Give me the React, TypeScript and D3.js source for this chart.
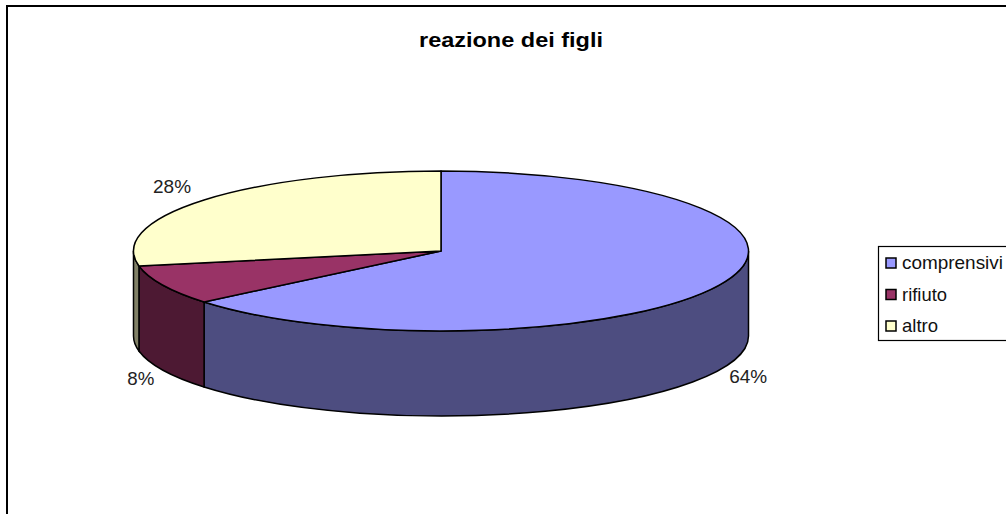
import React from "react";
import * as d3 from "d3";

const categories = ["comprensivi", "rifiuto", "altro"];
const values = [64, 8, 28];
const labels = ["64%", "8%", "28%"];

const topColors = ["#9999FF", "#993366", "#FFFFCC"];
const sideColors = ["#4D4D80", "#4D1933", "#808066"];

const cx = 441, cy = 251, rx = 307.5, ry = 80, depth = 85;
const px = (a: number) => cx + rx * Math.sin(a);
const py = (a: number) => cy - ry * Math.cos(a);

const pie = d3.pie<number>().sort(null)(values);

function topPath(a0: number, a1: number) {
  const large = a1 - a0 > Math.PI ? 1 : 0;
  return `M${cx},${cy}L${px(a0)},${py(a0)}A${rx},${ry} 0 ${large} 1 ${px(a1)},${py(a1)}Z`;
}
// side wall, only for the part of the rim facing the viewer (angles PI/2 .. 3PI/2)
function sidePath(a0: number, a1: number) {
  const s = Math.max(a0, Math.PI / 2), e = Math.min(a1, (3 * Math.PI) / 2);
  if (e <= s) return null;
  return `M${px(s)},${py(s)}A${rx},${ry} 0 0 1 ${px(e)},${py(e)}L${px(e)},${py(e) + depth}A${rx},${ry} 0 0 0 ${px(s)},${py(s) + depth}Z`;
}

// Label anchor follows each slice's mid-angle; the nudge is layout only.
const labelNudge: [number, number][] = [[29, 13], [-22, 15], [-32, -7]];
const labelWidths = [38, 27, 38];
const legendWidths = [101, 45, 36];

const font = "'Liberation Sans', Arial, sans-serif";
const legendY = d3.scalePoint<string>().domain(categories).range([263, 326]);

export default function App() {
  return (
    <svg width={1006} height={514} style={{ position: "absolute", left: 0, top: 0 }} fontFamily={font}>
      <rect x={0} y={0} width={1006} height={514} fill="#fff" />
      <path d="M7,514V6H1006" fill="none" stroke="#000" strokeWidth={2} />
      <text x={419} y={46.5} fontSize={21} fontWeight="bold" textLength={184} lengthAdjust="spacingAndGlyphs">reazione dei figli</text>
      {pie.map((d, i) => {
        const p = sidePath(d.startAngle, d.endAngle);
        return p ? <path key={i} d={p} fill={sideColors[i]} stroke="#000" strokeWidth={1.5} /> : null;
      })}
      {pie.map((d, i) => (
        <path key={i} d={topPath(d.startAngle, d.endAngle)} fill={topColors[i]} stroke="#000" strokeWidth={1.5} strokeLinejoin="round" />
      ))}
      {pie.map((d, i) => {
        const mid = (d.startAngle + d.endAngle) / 2;
        const front = Math.cos(mid) < 0;
        const x = px(mid) + labelNudge[i][0];
        const y = py(mid) + (front ? depth : 0) + labelNudge[i][1];
        return (
          <text key={labels[i]} x={x - labelWidths[i] / 2} y={y} fontSize={19} fill="#222" textLength={labelWidths[i]} lengthAdjust="spacingAndGlyphs">{labels[i]}</text>
        );
      })}
      <rect x={878.5} y={246.5} width={140} height={94} fill="#fff" stroke="#000" strokeWidth={1.2} />
      {categories.map((c, i) => (
        <g key={c}>
          <rect x={886} y={(legendY(c) as number) - 5} width={10} height={10} fill={topColors[i]} stroke="#000" strokeWidth={1.5} />
          <text x={902} y={(legendY(c) as number) + 6} fontSize={18.5} fill="#111" textLength={legendWidths[i]} lengthAdjust="spacingAndGlyphs">{c}</text>
        </g>
      ))}
    </svg>
  );
}
